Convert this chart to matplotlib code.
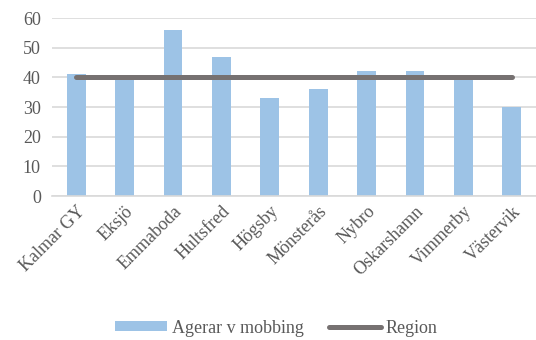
import matplotlib
matplotlib.use("Agg")
import matplotlib.pyplot as plt
import numpy as np

categories = ["Kalmar GY", "Eksjö", "Emmaboda", "Hultsfred", "Högsby",
              "Mönsterås", "Nybro", "Oskarshamn", "Vimmerby", "Västervik"]
agerar = [41, 39, 56, 47, 33, 36, 42, 42, 39, 30]
region = [40, 40, 40, 40, 40, 40, 40, 40, 40, 40]
yticks = [0, 10, 20, 30, 40, 50, 60]

plt.rcParams['font.family'] = ['Liberation Serif', 'DejaVu Serif']
fig = plt.figure(figsize=(5.36, 3.4), dpi=100)
ax = fig.add_axes([0.097, 0.4235, 0.903, 0.5235])

x = np.arange(len(categories))
b = ax.bar(x, agerar, width=0.39, color="#9DC3E6", label="Agerar v mobbing", zorder=2)
l, = ax.plot(x, region, color="#767171", lw=3.6, solid_capstyle="round", label="Region", zorder=3)

ax.set_xlim(-0.5, len(categories) - 0.5)
ax.set_ylim(0, 60)
ax.set_yticks(yticks)
ax.set_yticklabels([str(v) for v in yticks], fontsize=13, color="#595959")
ax.yaxis.grid(True, color="#D9D9D9", lw=1.2, zorder=0)
ax.set_axisbelow(True)
ax.set_xticks(x)
ax.set_xticklabels(categories, rotation=45, ha="right", rotation_mode="anchor",
                   fontsize=13, color="#595959")
ax.tick_params(axis="y", length=0, pad=8)
ax.tick_params(axis="x", length=0, pad=5)
for s in ["top", "right", "left"]:
    ax.spines[s].set_visible(False)
ax.spines["bottom"].set_color("#D9D9D9")
ax.spines["bottom"].set_linewidth(1.2)

fig.legend(handles=[b, l], loc="center", bbox_to_anchor=(0.515, 0.035), ncol=2, frameon=False,
           fontsize=13, handlelength=2.9, handleheight=0.45, columnspacing=1.4,
           handletextpad=0.25, labelcolor="#595959")

fig.savefig("out.png", dpi=100)
